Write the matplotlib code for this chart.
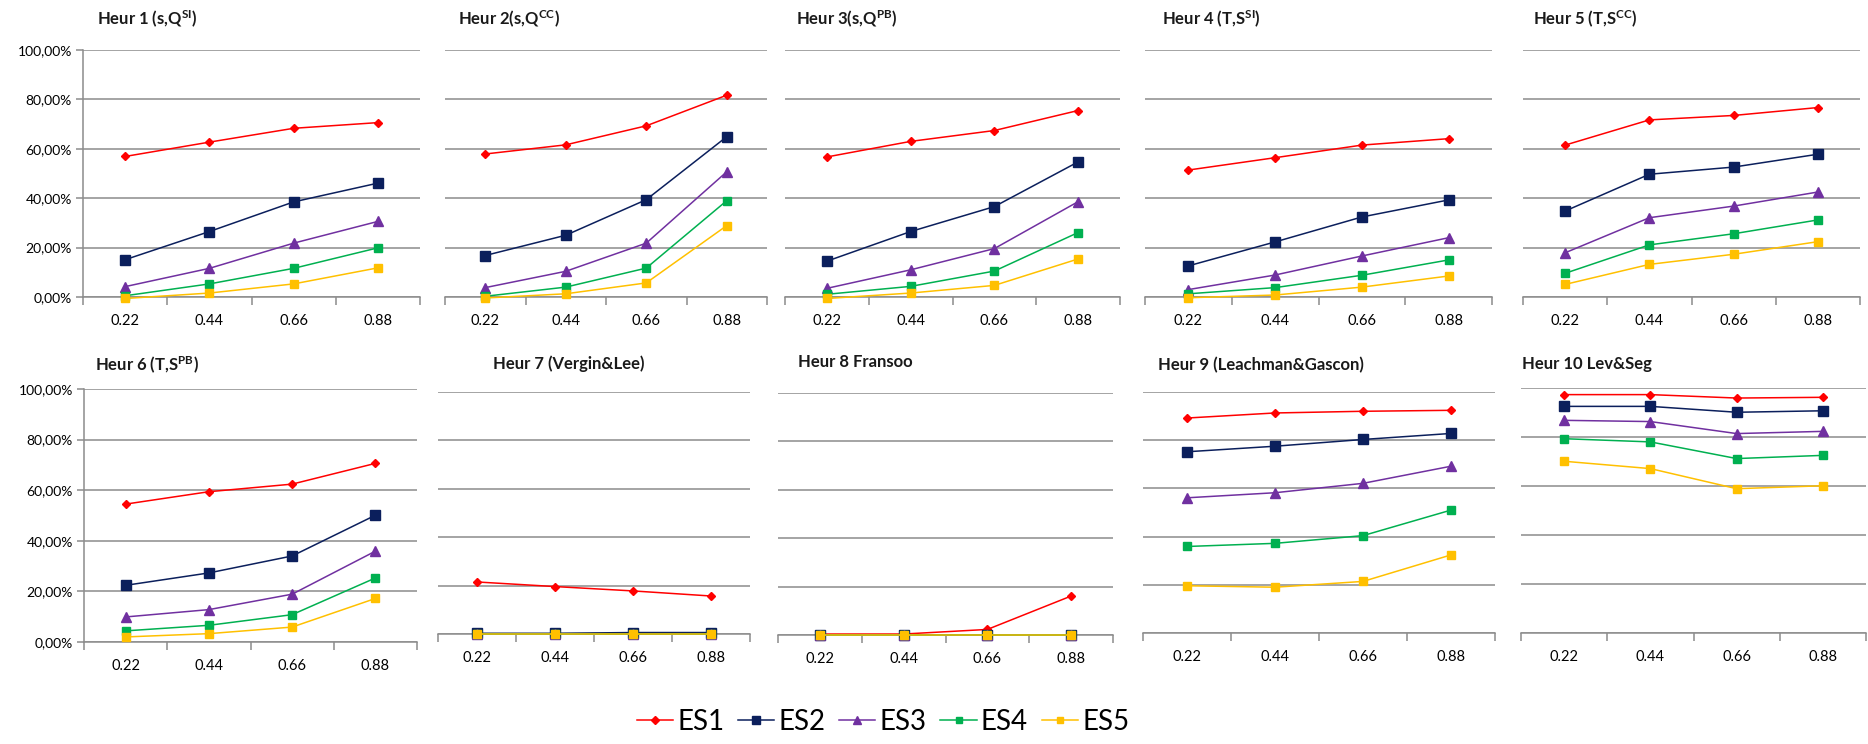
import matplotlib
matplotlib.use("Agg")
import matplotlib.pyplot as plt
from matplotlib.ticker import FuncFormatter

plt.rcParams['font.family'] = ['Lato', 'DejaVu Sans']
plt.rcParams['mathtext.default'] = 'regular'

# Load levels on the x axis and the five experimental settings
load_levels = ["0.22", "0.44", "0.66", "0.88"]
series_names = ["ES1", "ES2", "ES3", "ES4", "ES5"]
series_colors = ["#FF0000", "#0B1F5C", "#7030A0", "#00B050", "#FFC000"]
series_markers = ["D", "s", "^", "s", "s"]
series_msizes = [4.5, 6.5, 6.5, 5.5, 5.5]

titles = [
    r"Heur 1 (s,Q$^{SI}$)", r"Heur 2(s,Q$^{CC}$)", r"Heur 3(s,Q$^{PB}$)",
    r"Heur 4 (T,S$^{SI}$)", r"Heur 5 (T,S$^{CC}$)", r"Heur 6 (T,S$^{PB}$)",
    "Heur 7 (Vergin&Lee)", "Heur 8 Fransoo", "Heur 9 (Leachman&Gascon)",
    "Heur 10 Lev&Seg",
]

# Percentages per heuristic: one row per ES1..ES5, one value per load level
heur1 = [[56.9, 62.7, 68.3, 70.6],
         [15.1, 26.5, 38.5, 46.1],
         [4.2, 11.6, 21.8, 30.6],
         [0.5, 5.3, 11.6, 19.9],
         [-0.6, 1.6, 5.3, 11.8]]
heur2 = [[57.9, 61.6, 69.3, 81.7],
         [16.8, 25.0, 39.4, 64.9],
         [3.8, 10.4, 21.8, 50.7],
         [0.3, 4.0, 11.7, 39.0],
         [-0.4, 1.3, 5.7, 28.9]]
heur3 = [[56.7, 63.0, 67.4, 75.5],
         [14.5, 26.5, 36.6, 54.7],
         [3.5, 11.0, 19.6, 38.6],
         [1.1, 4.3, 10.5, 26.1],
         [-0.6, 1.6, 4.7, 15.4]]
heur4 = [[51.4, 56.4, 61.5, 64.1],
         [12.6, 22.3, 32.4, 39.3],
         [3.0, 8.9, 16.6, 24.0],
         [1.3, 3.8, 8.8, 15.0],
         [-0.3, 0.8, 4.0, 8.5]]
heur5 = [[61.5, 71.7, 73.5, 76.7],
         [34.8, 49.7, 52.6, 57.8],
         [17.9, 32.1, 36.8, 42.5],
         [9.6, 21.1, 25.6, 31.2],
         [5.1, 13.2, 17.3, 22.4]]
heur6 = [[54.5, 59.4, 62.4, 70.6],
         [22.4, 27.3, 34.0, 50.1],
         [9.9, 12.8, 18.9, 35.9],
         [4.4, 6.6, 10.8, 25.3],
         [2.0, 3.3, 5.9, 17.2]]
heur7 = [[21.5, 19.6, 17.8, 15.7],
         [0.3, 0.3, 0.6, 0.6],
         [0.0, 0.0, 0.0, 0.0],
         [0.0, 0.0, 0.0, 0.0],
         [0.0, 0.0, 0.0, 0.0]]
heur8 = [[0.4, 0.4, 2.3, 16.1],
         [0.0, 0.0, 0.0, 0.0],
         [0.0, 0.0, 0.0, 0.0],
         [0.0, 0.0, 0.0, 0.0],
         [0.0, 0.0, 0.0, 0.0]]
heur9 = [[89.2, 91.3, 92.0, 92.4],
         [75.2, 77.5, 80.3, 82.8],
         [56.1, 58.2, 62.1, 69.2],
         [35.9, 37.2, 40.4, 51.0],
         [19.6, 19.0, 21.4, 32.4]]
heur10 = [[97.3, 97.3, 95.9, 96.2],
          [92.5, 92.5, 90.1, 90.7],
          [86.8, 86.3, 81.4, 82.3],
          [79.3, 78.0, 71.2, 72.5],
          [70.1, 67.1, 58.9, 60.1]]

panels = [heur1, heur2, heur3, heur4, heur5, heur6, heur7, heur8, heur9, heur10]

W, H = 1868, 744
fig = plt.figure(figsize=(W / 100, H / 100), dpi=100)

# Plot boxes in pixels: left, right, top (100 %), bottom (0 %)
boxes = [
    (83, 420, 50, 297), (445, 767, 50, 297), (785, 1120, 50, 297),
    (1145, 1492, 50, 297), (1523, 1860, 50, 297),
    (84, 417, 389, 642), (438, 750, 392, 634), (778, 1113, 393, 635),
    (1143, 1495, 392, 633), (1521, 1866, 388, 633),
]
# Title anchor points in pixels
title_pos = [
    (97, 19), (458, 19), (796, 19), (1162, 19), (1533, 19),
    (95, 365), (493, 364), (798, 362), (1158, 365), (1522, 364),
]
labelled = {0, 5}

grid_col = "#8C8C8C"
pct_fmt = FuncFormatter(lambda v, p: f"{v:.2f}%".replace(".", ","))

handles = []
for i, (data, (l, r, t, b)) in enumerate(zip(panels, boxes)):
    ax = fig.add_axes([l / W, 1 - b / H, (r - l) / W, (b - t) / H])
    x = list(range(len(load_levels)))
    for k, vals in enumerate(data):
        ln, = ax.plot(x, vals, color=series_colors[k], lw=1.1,
                      marker=series_markers[k], ms=series_msizes[k],
                      mec=series_colors[k], mfc=series_colors[k],
                      clip_on=False, zorder=3 + k)
        if i == 0:
            handles.append(ln)
    ax.set_xlim(-0.5, len(load_levels) - 0.5)
    ax.set_ylim(0, 100)
    ax.set_yticks([0, 20, 40, 60, 80, 100])
    ax.grid(axis="y", color=grid_col, lw=1.1)
    ax.set_axisbelow(True)
    ax.set_xticks(x)
    ax.set_xticklabels(load_levels, fontsize=10.5)
    ax.set_xticks([v - 0.5 for v in range(len(load_levels) + 1)], minor=True)
    ax.tick_params(axis="x", which="major", length=0, pad=12)
    ax.tick_params(axis="x", which="minor", length=6, width=1.1,
                   color=grid_col, direction="out")
    for s in ("top", "right"):
        ax.spines[s].set_visible(False)
    ax.spines["bottom"].set_color(grid_col)
    ax.spines["bottom"].set_linewidth(1.1)
    if i in labelled:
        ax.spines["left"].set_color(grid_col)
        ax.spines["left"].set_linewidth(1.1)
        ax.yaxis.set_major_formatter(pct_fmt)
        ax.tick_params(axis="y", length=5, width=1.1, color=grid_col,
                       labelsize=10, pad=3)
    else:
        ax.spines["left"].set_visible(False)
        ax.tick_params(axis="y", length=0, labelleft=False)
    tx, ty = title_pos[i]
    fig.text(tx / W, 1 - ty / H, titles[i], fontsize=12, fontweight="bold",
             color="#1A1A1A", ha="left", va="center")

fig.legend(handles, series_names, loc="center",
           bbox_to_anchor=(883 / W, 1 - 722 / H), ncol=5, frameon=False,
           fontsize=20, handlelength=1.3, columnspacing=0.5,
           handletextpad=0.15, markerscale=0.8)

fig.savefig("out.png", dpi=100, facecolor="white")
